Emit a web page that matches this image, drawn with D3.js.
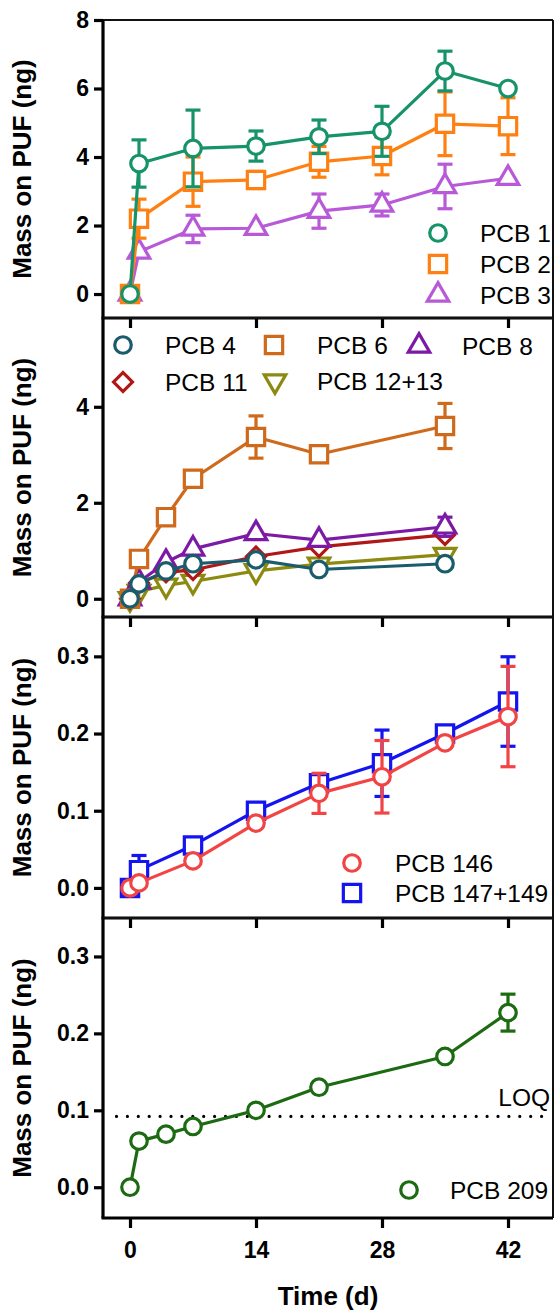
<!DOCTYPE html>
<html>
<head>
<meta charset="utf-8">
<script src="https://cdn.jsdelivr.net/npm/d3@7"></script>
<style>
  html, body { margin: 0; padding: 0; background: #fff; }
  svg { display: block; font-family: "Liberation Sans", Arial, sans-serif; }
</style>
</head>
<body>
<svg id="chart" width="555" height="1311"></svg>
<script>
// ---- data -------------------------------------------------------------
const xTicks = [0, 14, 28, 42];

// Panel A: mono-chlorinated congeners
const daysA = [0, 1, 7, 14, 21, 28, 35, 42];
const pcb1    = [0, 3.81, 4.25, 4.32, 4.59, 4.75, 6.51, 6.00];
const pcb1Err = [0, 0.69, 1.12, 0.44, 0.49, 0.73, 0.58, 0];
const pcb2    = [0, 2.20, 3.28, 3.33, 3.86, 4.03, 4.97, 4.90];
const pcb2Err = [0, 0.57, 0.72, 0.25, 0.45, 0.55, 0.93, 0.83];
const pcb3    = [0, 1.23, 1.90, 1.92, 2.42, 2.60, 3.14, 3.38];
const pcb3Err = [0, 0.10, 0.40, 0, 0.50, 0.32, 0.65, 0];
const yTicksA = [0, 2, 4, 6, 8];

// Panel B: di-chlorinated congeners
const daysB = [0, 1, 4, 7, 14, 21, 35];
const pcb4     = [0, 0.31, 0.58, 0.73, 0.81, 0.61, 0.73];
const pcb6     = [0, 0.83, 1.70, 2.50, 3.37, 3.01, 3.60];
const pcb6Err  = [0, 0, 0.10, 0, 0.44, 0, 0.47];
const pcb8     = [0, 0.35, 0.76, 1.04, 1.36, 1.22, 1.50];
const pcb8Err  = [0, 0, 0, 0, 0, 0, 0.20];
const pcb11    = [0, 0.33, 0.55, 0.60, 0.88, 1.08, 1.33];
const pcb1213  = [0, 0.15, 0.28, 0.36, 0.58, 0.72, 0.92];
const yTicksB = [0, 2, 4];

// Panel C: hexa-chlorinated congeners
const daysC = [0, 1, 7, 14, 21, 28, 35, 42];
const pcb146      = [0, 0.0065, 0.035, 0.084, 0.1225, 0.144, 0.188, 0.222];
const pcb146Err   = [0, 0, 0, 0, 0.026, 0.047, 0, 0.065];
const pcb147149   = [0, 0.023, 0.055, 0.100, 0.1355, 0.1615, 0.200, 0.2415];
const pcb147149Err = [0, 0.019, 0, 0, 0.010, 0.043, 0, 0.058];
const yTicksC = [0, 0.1, 0.2, 0.3];

// Panel D: deca-chlorinated congener
const daysD = [0, 1, 4, 7, 14, 21, 35, 42];
const pcb209    = [0, 0.060, 0.069, 0.079, 0.100, 0.130, 0.170, 0.227];
const pcb209Err = [0, 0, 0, 0, 0, 0, 0, 0.024];
const loq = 0.092;
const yTicksD = [0, 0.1, 0.2, 0.3];

// ---- layout -----------------------------------------------------------
const svg = d3.select("#chart");
const left = 103, right = 553;
const x = d3.scaleLinear().domain([-3, 47]).range([left, right]);

const fontStack = '"Liberation Sans", Arial, sans-serif';

const panels = [
  { top: 20,  bottom: 318,  domain: [-0.7, 8],       ticks: yTicksA, fmt: d3.format("d") },
  { top: 318, bottom: 617,  domain: [-0.38, 5.85],   ticks: yTicksB, fmt: d3.format("d") },
  { top: 617, bottom: 918,  domain: [-0.039, 0.351], ticks: yTicksC, fmt: d3.format(".1f") },
  { top: 918, bottom: 1218, domain: [-0.04, 0.35],   ticks: yTicksD, fmt: d3.format(".1f") }
];
panels.forEach(p => { p.y = d3.scaleLinear().domain(p.domain).range([p.bottom, p.top]); });

// symbol factories
const sym = {
  circle:   d3.symbol().type(d3.symbolCircle).size(215),
  square:   d3.symbol().type(d3.symbolSquare).size(300),
  triangle: d3.symbol().type(d3.symbolTriangle).size(200),
  diamond:  d3.symbol().type(d3.symbolSquare).size(180)
};
function symbolPath(shape) {
  if (shape === "tridown") return { d: sym.triangle(), rot: 180 };
  if (shape === "diamond") return { d: sym.diamond(), rot: 45 };
  return { d: sym[shape](), rot: 0 };
}

function drawFrame(p, showXLabels) {
  const g = svg.append("g");
  // thin top / right border
  g.append("line").attr("x1", left).attr("x2", right).attr("y1", p.top).attr("y2", p.top)
    .attr("stroke", "#111").attr("stroke-width", 2);
  g.append("line").attr("x1", right).attr("x2", right).attr("y1", p.top).attr("y2", p.bottom)
    .attr("stroke", "#111").attr("stroke-width", 2);

  const ax = g.append("g").attr("transform", `translate(${left},0)`)
    .call(d3.axisLeft(p.y).tickValues(p.ticks).tickFormat(p.fmt).tickSize(9).tickSizeOuter(0).tickPadding(5));
  ax.select(".domain").attr("d", `M0,${p.top}V${p.bottom}`);

  const bx = g.append("g").attr("transform", `translate(0,${p.bottom})`)
    .call(d3.axisBottom(x).tickValues(xTicks).tickSize(10).tickSizeOuter(0).tickPadding(14)
      .tickFormat(showXLabels ? d3.format("d") : () => ""));
  bx.select(".domain").attr("d", `M${left - 1.5},0H${right}`);

  [ax, bx].forEach(a => {
    a.selectAll(".domain, .tick line").attr("stroke", "#000").attr("stroke-width", 3.2);
    a.selectAll(".tick text").attr("font-family", fontStack).attr("font-size", 23)
      .attr("font-weight", "bold").attr("fill", "#000");
  });

  svg.append("text")
    .attr("transform", `translate(31,${(p.top + p.bottom) / 2}) rotate(-90)`)
    .attr("text-anchor", "middle")
    .attr("font-family", fontStack).attr("font-size", 26).attr("font-weight", "bold")
    .text("Mass on PUF (ng)");
}

function drawSeries(p, days, vals, errs, color, shape) {
  const g = svg.append("g");
  const pts = days.map((d, i) => ({ d, v: vals[i], e: errs ? errs[i] : 0 }));
  g.append("path").datum(pts)
    .attr("d", d3.line().x(q => x(q.d)).y(q => p.y(q.v)))
    .attr("fill", "none").attr("stroke", color).attr("stroke-width", 3.2).attr("stroke-linejoin", "round");
  const eb = g.selectAll(".eb").data(pts.filter(q => q.e > 0)).enter().append("g");
  eb.append("line").attr("x1", q => x(q.d)).attr("x2", q => x(q.d))
    .attr("y1", q => p.y(q.v - q.e)).attr("y2", q => p.y(q.v + q.e))
    .attr("stroke", color).attr("stroke-width", 3.2);
  [-1, 1].forEach(s => {
    eb.append("line").attr("x1", q => x(q.d) - 7.5).attr("x2", q => x(q.d) + 7.5)
      .attr("y1", q => p.y(q.v + s * q.e)).attr("y2", q => p.y(q.v + s * q.e))
      .attr("stroke", color).attr("stroke-width", 3.2);
  });
  const sp = symbolPath(shape);
  g.selectAll(".m").data(pts).enter().append("path")
    .attr("d", sp.d)
    .attr("transform", q => `translate(${x(q.d)},${p.y(q.v)}) rotate(${sp.rot})`)
    .attr("fill", "#fff").attr("stroke", color).attr("stroke-width", 3.2);
}

function legendItem(cx, cy, tx, label, color, shape) {
  const sp = symbolPath(shape);
  svg.append("path").attr("d", sp.d)
    .attr("transform", `translate(${cx},${cy}) rotate(${sp.rot})`)
    .attr("fill", "#fff").attr("stroke", color).attr("stroke-width", 3.2);
  svg.append("text").attr("x", tx).attr("y", cy).attr("dy", "0.36em")
    .attr("font-family", fontStack).attr("font-size", 24.5).attr("fill", "#000")
    .text(label);
}

// colours
const C = {
  pcb1: "#17936a", pcb2: "#ff8012", pcb3: "#b85ad8",
  pcb4: "#1b5c6c", pcb6: "#cf6a1c", pcb8: "#7d1aa5", pcb11: "#b01818", pcb1213: "#8c8a10",
  pcb146: "#f24444", pcb147149: "#1414f0",
  pcb209: "#1c6a12"
};

// ---- Panel A ---------------------------------------------------------
drawFrame(panels[0], false);
drawSeries(panels[0], daysA, pcb3, pcb3Err, C.pcb3, "triangle");
drawSeries(panels[0], daysA, pcb2, pcb2Err, C.pcb2, "square");
drawSeries(panels[0], daysA, pcb1, pcb1Err, C.pcb1, "circle");
legendItem(438, 233, 480, "PCB 1", C.pcb1, "circle");
legendItem(438, 264, 480, "PCB 2", C.pcb2, "square");
legendItem(438, 295, 480, "PCB 3", C.pcb3, "triangle");

// ---- Panel B ---------------------------------------------------------
drawFrame(panels[1], false);
drawSeries(panels[1], daysB, pcb1213, null, C.pcb1213, "tridown");
drawSeries(panels[1], daysB, pcb11, null, C.pcb11, "diamond");
drawSeries(panels[1], daysB, pcb8, pcb8Err, C.pcb8, "triangle");
drawSeries(panels[1], daysB, pcb6, pcb6Err, C.pcb6, "square");
drawSeries(panels[1], daysB, pcb4, null, C.pcb4, "circle");
legendItem(123, 345, 165, "PCB 4", C.pcb4, "circle");
legendItem(274, 345, 317, "PCB 6", C.pcb6, "square");
legendItem(419, 346, 462, "PCB 8", C.pcb8, "triangle");
legendItem(123, 382, 165, "PCB 11", C.pcb11, "diamond");
legendItem(275, 381, 317, "PCB 12+13", C.pcb1213, "tridown");

// ---- Panel C ---------------------------------------------------------
drawFrame(panels[2], false);
drawSeries(panels[2], daysC, pcb147149, pcb147149Err, C.pcb147149, "square");
drawSeries(panels[2], daysC, pcb146, pcb146Err, C.pcb146, "circle");
legendItem(352, 863, 395, "PCB 146", C.pcb146, "circle");
legendItem(352, 893, 395, "PCB 147+149", C.pcb147149, "square");

// ---- Panel D ---------------------------------------------------------
drawFrame(panels[3], true);
svg.append("line")
  .attr("x1", x(-1.5)).attr("x2", right - 2)
  .attr("y1", panels[3].y(loq)).attr("y2", panels[3].y(loq))
  .attr("stroke", "#000").attr("stroke-width", 3.2)
  .attr("stroke-linecap", "round").attr("stroke-dasharray", "0 10.9");
svg.append("text").attr("x", 550).attr("y", 1106).attr("text-anchor", "end")
  .attr("font-family", fontStack).attr("font-size", 24.5).text("LOQ");
drawSeries(panels[3], daysD, pcb209, pcb209Err, C.pcb209, "circle");
legendItem(409, 1190, 450, "PCB 209", C.pcb209, "circle");

// x-axis title
svg.append("text").attr("x", (left + right) / 2).attr("y", 1305)
  .attr("text-anchor", "middle").attr("font-family", fontStack)
  .attr("font-size", 26).attr("font-weight", "bold").text("Time (d)");
</script>
</body>
</html>
